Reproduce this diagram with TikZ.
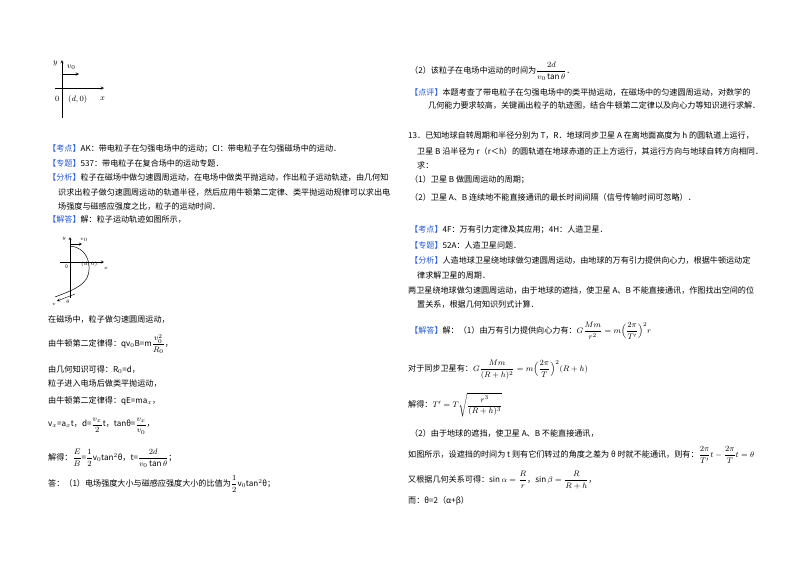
\documentclass[tikz,border=0pt]{standalone}
\usepackage{amsmath}
\usepackage{fontspec}
\setmainfont{Noto Sans CJK SC}
\begin{document}
\begin{tikzpicture}[x=1pt,y=-1pt,
  t/.style={anchor=west,inner sep=0pt,font=\fontsize{8.1}{9}\selectfont},
  ax/.style={line width=0.5pt,-stealth}]
\definecolor{kb}{RGB}{40,90,210}
\useasboundingbox (0,0) rectangle (800,565);
\fill[white] (0,0) rectangle (800,565);
% figure 1
\coordinate (y0) at (62,118); \coordinate (y1) at (62,60);
\coordinate (x0) at (55,88); \coordinate (x1) at (104,88);
\draw[ax] (y0) -- (y1);
\draw[ax] (x0) -- (x1);
\coordinate (v0a) at (62,74); \coordinate (v0b) at (79,74);
\draw[ax] (v0a) -- (v0b);
\node[t] (ly) at (53,64) {$y$};
\node[t] (lv) at (67,67) {$v_0$};
\node[t] (l0) at (55,99) {$0$};
\node[t] (ld) at (68,99) {$(d,0)$};
\node[t] (lx) at (100,99) {$x$};
% figure 2
\coordinate (Y0) at (70,298); \coordinate (Y1) at (70,237);
\coordinate (X0) at (60,262); \coordinate (X1) at (104,262);
\draw[line width=0.4pt,-stealth] (Y0) -- (Y1);
\draw[line width=0.4pt,-stealth] (X0) -- (X1);
\coordinate (P0) at (70,246);
\draw[line width=0.5pt] (P0) .. controls (92,248) and (93,275) .. (83,283) .. controls (75,290) and (65,293) .. (55,297);
\coordinate (Vs) at (75,294); \coordinate (Ve) at (57,301);
\draw[line width=0.4pt,-stealth] (Vs) -- (Ve);
\coordinate (Pa) at (70,244); \coordinate (Pb) at (82,244);
\draw[line width=0.4pt,-stealth] (Pa) -- (Pb);
\node[t,font=\tiny] (sy) at (62,239) {$y$};
\node[t,font=\tiny] (sv) at (80,240) {$v_0$};
\node[t,font=\tiny] (s0) at (65,267) {0};
\node[t,font=\tiny] (sd) at (81,264) {$(d,0)$};
\node[t,font=\tiny] (sx) at (104,268) {$x$};
\node[t,font=\tiny] (sb) at (52,304) {$v$};
\node[t,font=\tiny] (st) at (66,302) {$\theta$};
% left text
\node[t] (a1) at (48,149) {\textcolor{kb}{【考点】}AK：带电粒子在匀强电场中的运动；CI：带电粒子在匀强磁场中的运动．};
\node[t] (a2) at (48,163) {\textcolor{kb}{【专题】}537：带电粒子在复合场中的运动专题．};
\node[t] (a3) at (48,178) {\textcolor{kb}{【分析】}粒子在磁场中做匀速圆周运动，在电场中做类平抛运动，作出粒子运动轨迹，由几何知};
\node[t] (a4) at (58,192) {识求出粒子做匀速圆周运动的轨道半径，然后应用牛顿第二定律、类平抛运动规律可以求出电};
\node[t] (a5) at (58,206) {场强度与磁感应强度之比，粒子的运动时间．};
\node[t] (a6) at (48,220) {\textcolor{kb}{【解答】}解：粒子运动轨迹如图所示，};
\node[t] (b1) at (48,320) {在磁场中，粒子做匀速圆周运动，};
\node[t] (b2) at (48,344) {由牛顿第二定律得：qv$_0$B=m$\dfrac{v_0^2}{R_0}$，};
\node[t] (b3) at (48,370) {由几何知识可得：R$_0$=d，};
\node[t] (b4) at (48,384) {粒子进入电场后做类平抛运动，};
\node[t] (b5) at (48,401) {由牛顿第二定律得：qE=ma$_x$，};
\node[t] (b6) at (48,426) {v$_x$=a$_x$t，d=$\dfrac{v_x}{2}$t，tanθ=$\dfrac{v_x}{v_0}$，};
\node[t] (b7) at (48,458) {解得：$\dfrac{E}{B}$=$\dfrac{1}{2}$v$_0$tan$^2$θ，t=$\dfrac{2d}{v_0\tan\theta}$；};
\node[t] (b8) at (48,484) {答：（1）电场强度大小与磁感应强度大小的比值为$\dfrac{1}{2}$v$_0$tan$^2$θ；};
% right text
\node[t] (c1) at (410,71) {（2）该粒子在电场中运动的时间为$\dfrac{2d}{v_0\tan\theta}$．};
\node[t] (c2) at (410,92) {\textcolor{kb}{【点评】}本题考查了带电粒子在匀强电场中的类平抛运动，在磁场中的匀速圆周运动，对数学的};
\node[t] (c3) at (428,106) {几何能力要求较高，关键画出粒子的轨迹图，结合牛顿第二定律以及向心力等知识进行求解．};
\node[t] (c4) at (408,136) {13．已知地球自转周期和半径分别为 T，R．地球同步卫星 A 在离地面高度为 h 的圆轨道上运行，};
\node[t] (c5) at (417,151) {卫星 B 沿半径为 r（r＜h）的圆轨道在地球赤道的正上方运行，其运行方向与地球自转方向相同．};
\node[t] (c6) at (417,165) {求：};
\node[t] (c7) at (410,180) {（1）卫星 B 做圆周运动的周期；};
\node[t] (c8) at (410,197) {（2）卫星 A、B 连续地不能直接通讯的最长时间间隔（信号传输时间可忽略）．};
\node[t] (d1) at (410,230) {\textcolor{kb}{【考点】}4F：万有引力定律及其应用；4H：人造卫星．};
\node[t] (d2) at (410,245) {\textcolor{kb}{【专题】}52A：人造卫星问题．};
\node[t] (d3) at (410,260) {\textcolor{kb}{【分析】}人造地球卫星绕地球做匀速圆周运动，由地球的万有引力提供向心力，根据牛顿运动定};
\node[t] (d4) at (417,275) {律求解卫星的周期．};
\node[t] (d5) at (408,290) {两卫星绕地球做匀速圆周运动，由于地球的遮挡，使卫星 A、B 不能直接通讯，作图找出空间的位};
\node[t] (d6) at (417,305) {置关系，根据几何知识列式计算．};
\node[t] (e1) at (410,331) {\textcolor{kb}{【解答】}解：（1）由万有引力提供向心力有：$G\dfrac{Mm}{r^2}=m\Bigl(\dfrac{2\pi}{T'}\Bigr)^2 r$};
\node[t] (e2) at (408,370) {对于同步卫星有：$G\dfrac{Mm}{(R+h)^2}=m\Bigl(\dfrac{2\pi}{T}\Bigr)^2(R+h)$};
\node[t] (e3) at (408,405) {解得：$T'=T\sqrt{\dfrac{r^3}{(R+h)^3}}$};
\node[t] (e4) at (410,433) {（2）由于地球的遮挡，使卫星 A、B 不能直接通讯，};
\node[t] (e5) at (408,455) {如图所示，设遮挡的时间为 t 则有它们转过的角度之差为 θ 时就不能通讯，则有：$\dfrac{2\pi}{T'}t-\dfrac{2\pi}{T}t=\theta$};
\node[t] (e6) at (408,480) {又根据几何关系可得：$\sin\alpha=\dfrac{R}{r}$，$\sin\beta=\dfrac{R}{R+h}$，};
\node[t] (e7) at (408,501) {而：θ=2（α+β）};
\end{tikzpicture}
\end{document}
